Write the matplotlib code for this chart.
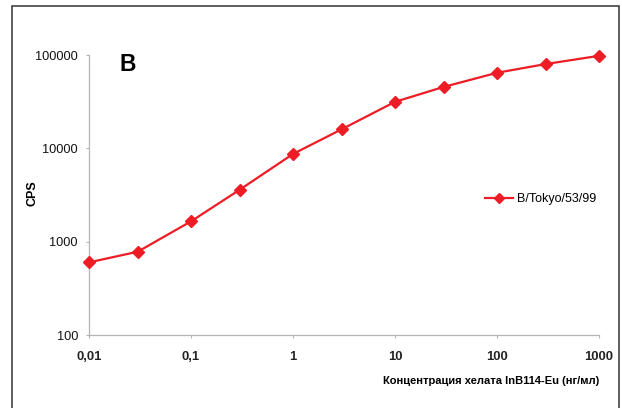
import matplotlib
matplotlib.use("Agg")
import matplotlib.pyplot as plt
from matplotlib.patches import Rectangle
from matplotlib.ticker import FixedLocator, NullLocator

conc = [0.01, 0.03, 0.1, 0.3, 1, 3, 10, 30, 100, 300, 1000]
cps = [600, 780, 1650, 3600, 8700, 16000, 31500, 45500, 64500, 80000, 98000]
x_ticks = [0.01, 0.1, 1, 10, 100, 1000]
x_labels = ["0,01", "0,1", "1", "10", "100", "1000"]
y_ticks = [100, 1000, 10000, 100000]
y_labels = ["100", "1000", "10000", "100000"]
series_name = "B/Tokyo/53/99"

plt.rcParams['font.family'] = ['Liberation Sans', 'DejaVu Sans']

fig = plt.figure(figsize=(6.22, 4.08), dpi=100)
ax = fig.add_axes([89/622, 1-335/408, (599-89)/622, (335-55)/408])

red = '#EE1C25'
ax.plot(conc, cps, color=red, lw=1.6, marker='D', markersize=6.5,
        markeredgecolor=red, markerfacecolor=red, label=series_name,
        clip_on=False, zorder=3)
ax.set_xscale('log')
ax.set_yscale('log')
ax.set_xlim(0.01, 1000)
ax.set_ylim(100, 100000)
ax.xaxis.set_major_locator(FixedLocator(x_ticks))
ax.xaxis.set_minor_locator(NullLocator())
ax.yaxis.set_major_locator(FixedLocator(y_ticks))
ax.yaxis.set_minor_locator(NullLocator())
ax.set_xticklabels(x_labels, fontweight='bold', color='#222222')
ax.set_yticklabels(y_labels, color='#111111')
for s in ['top', 'right']:
    ax.spines[s].set_visible(False)
for s in ['left', 'bottom']:
    ax.spines[s].set_color('#B5B5B5')
    ax.spines[s].set_linewidth(0.9)
ax.tick_params(axis='both', direction='out', length=2.5, width=0.8, color='#B5B5B5')
ax.tick_params(axis='x', labelsize=9.4, pad=9)
ax.tick_params(axis='y', labelsize=9.2, pad=5.5)

ax.set_ylabel('CPS', fontsize=9, fontweight='bold')
ax.yaxis.set_label_coords((38 - 89) / 510, (335 - 193) / 280)
ax.set_xlabel('Концентрация хелата InB114-Eu (нг/мл)', fontsize=8,
              fontweight='bold', loc='right', labelpad=9.5)

ax.text(30/510, 1 + 2/280, 'B', transform=ax.transAxes, fontsize=16.5,
        fontweight='bold', va='top', ha='left')

ax.legend(loc='center left', bbox_to_anchor=(0.755, 0.485), frameon=False,
          fontsize=9, handlelength=2.2, handletextpad=0.3, markerscale=0.8)

fig.patches.append(Rectangle((12/622, -0.02), 607/622, 1 - 6/408 + 0.02,
                             transform=fig.transFigure, fill=False,
                             edgecolor='#333333', linewidth=1.1))

fig.savefig('out.png', dpi=100)
